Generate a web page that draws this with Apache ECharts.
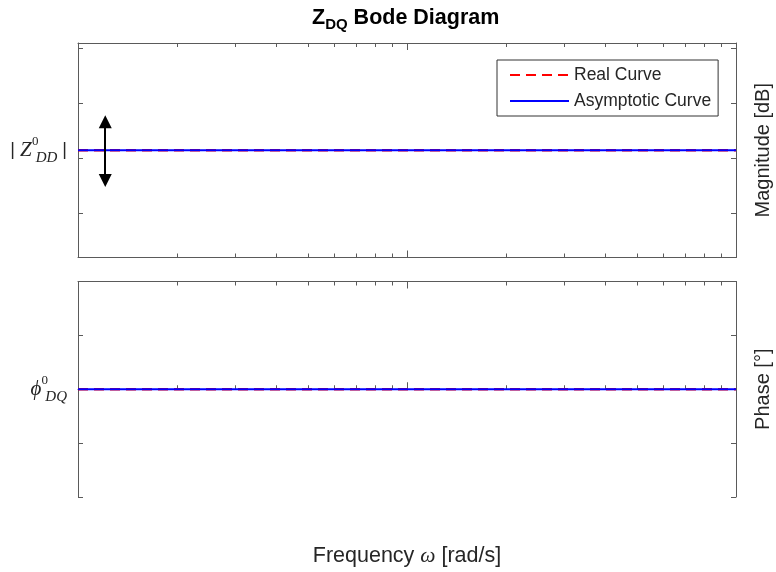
<!DOCTYPE html>
<html>
<head>
<meta charset="utf-8">
<script src="https://cdn.jsdelivr.net/npm/echarts@6/dist/echarts.min.js"></script>
<style>
  html, body { margin: 0; padding: 0; background: #ffffff; }
  #chart { width: 776px; height: 572px; }
</style>
</head>
<body>
<div id="chart"></div>
<script>
// Frequency span in rad/s: two decades on a log axis
const freq = [1, 100];
const decadeTicks = [1, 10, 100];
const minorTicks = [2, 3, 4, 5, 6, 7, 8, 9, 20, 30, 40, 50, 60, 70, 80, 90];

// Magnitude panel: flat level |Z_DD^0|
const magReal = [19.5, 19.5];
const magAsym = [19.5, 19.5];
const magRange = [0, 39];
const magTicks = [8, 18, 28, 38];

// Phase panel: flat level phi_DQ^0
const phaseReal = [0, 0];
const phaseAsym = [0, 0];
const phaseRange = [-90, 90];
const phaseTicks = [-90, -45, 0, 45, 90];

// Double-headed arrow marking the magnitude level
const arrowFreq = 1.21;
const arrowEnds = [24.7, 14.0];

const seriesNames = ['Real Curve', 'Asymptotic Curve'];

const boxColor = '#5a5a5a';
const textColor = '#262626';
const sans = '"Liberation Sans", Arial, sans-serif';
const serif = '"Liberation Serif", "DejaVu Serif", serif';

function pairs(xs, ys) {
  return xs.map((x, i) => [x, ys[i]]);
}

// Four x axes per panel: decade and minor ticks, on the bottom and top edges
function panelXAxes(gridIndex, name) {
  const base = {
    type: 'log', logBase: 10, gridIndex,
    min: freq[0], max: freq[freq.length - 1],
    splitLine: { show: false },
    axisLabel: { show: false }
  };
  const tick = (values, length) => ({
    show: true, inside: true, length, customValues: values,
    lineStyle: { color: boxColor, width: 1 }
  });
  const axes = [];
  ['bottom', 'top'].forEach(pos => {
    axes.push(Object.assign({}, base, {
      position: pos,
      axisLine: { show: true, lineStyle: { color: boxColor, width: 1 } },
      axisTick: tick(decadeTicks, 7)
    }));
    axes.push(Object.assign({}, base, {
      position: pos,
      axisLine: { show: false },
      axisTick: tick(minorTicks, 4)
    }));
  });
  if (name) {
    Object.assign(axes[0], {
      name: name,
      nameLocation: 'middle',
      nameGap: 48,
      nameTextStyle: {
        color: textColor,
        rich: {
          t: { fontFamily: sans, fontSize: 21.5, color: textColor },
          w: { fontFamily: serif, fontStyle: 'italic', fontSize: 21.5, color: textColor }
        }
      }
    });
  }
  return axes;
}

function panelYAxes(gridIndex, range, ticks, labelValue, labelText, sideName) {
  const base = {
    type: 'value', gridIndex,
    min: range[0], max: range[1],
    splitLine: { show: false },
    axisLine: { show: true, lineStyle: { color: boxColor, width: 1 } },
    axisTick: {
      show: true, inside: true, length: 5, customValues: ticks,
      lineStyle: { color: boxColor, width: 1 }
    }
  };
  const left = Object.assign({}, base, {
    position: 'left',
    axisLabel: {
      show: true,
      customValues: [labelValue],
      margin: 11,
      formatter: () => labelText,
      color: textColor,
      rich: {
        bar: { fontFamily: sans, fontSize: 18, color: textColor, lineHeight: 30 },
        m: { fontFamily: serif, fontStyle: 'italic', fontSize: 21, color: textColor, lineHeight: 30 },
        // superscript sits over the subscript: narrow slot, text spills to the right
        sup: { fontFamily: serif, fontSize: 13, color: textColor, verticalAlign: 'top', lineHeight: 14,
               width: 1, align: 'left', padding: [0, 0, 0, 3] },
        sub: { fontFamily: serif, fontStyle: 'italic', fontSize: 15, color: textColor, verticalAlign: 'bottom', lineHeight: 16 }
      }
    }
  });
  const right = Object.assign({}, base, {
    position: 'right',
    axisLabel: { show: false },
    name: sideName,
    nameLocation: 'middle',
    nameRotate: 90,
    nameGap: 17,
    nameTextStyle: { fontFamily: sans, fontSize: 20, color: textColor }
  });
  return [left, right];
}

const xAxis = panelXAxes(0, null).concat(
  panelXAxes(1, '{t|Frequency }{w|ω}{t| [rad/s]}')
);
const yAxis = panelYAxes(0, magRange, magTicks, magAsym[0],
    '{bar|| }{m|Z}{sup|0}{sub|DD}{bar| |}', 'Magnitude [dB]')
  .concat(panelYAxes(1, phaseRange, phaseTicks, phaseAsym[0],
    '{m|ϕ}{sup|0}{sub|DQ}', 'Phase [°]'));

const realStyle = { color: '#ff0000', width: 2.5, type: [10, 6] };
const asymStyle = { color: '#0000ff', width: 2 };

const option = {
  animation: false,
  backgroundColor: '#ffffff',
  title: {
    text: '{z|Z}{s|DQ}{b| Bode Diagram}',
    left: 307,
    top: 0,
    textStyle: {
      rich: {
        z: { fontFamily: sans, fontWeight: 'bold', fontSize: 21.5, color: '#000', lineHeight: 27 },
        s: { fontFamily: sans, fontWeight: 'bold', fontSize: 15, color: '#000', verticalAlign: 'bottom', lineHeight: 13 },
        b: { fontFamily: sans, fontWeight: 'bold', fontSize: 21.5, color: '#000', lineHeight: 27 }
      }
    }
  },
  legend: {
    data: seriesNames,
    orient: 'vertical',
    left: 497,
    top: 60,
    itemWidth: 59,
    itemHeight: 14,
    itemGap: 8,
    padding: [6, 7, 6, 12],
    borderColor: '#333333',
    borderWidth: 1,
    borderRadius: 0,
    backgroundColor: '#ffffff',
    selectedMode: false,
    itemStyle: { opacity: 0 },
    textStyle: { fontFamily: sans, fontSize: 17.5, color: textColor }
  },
  grid: [
    { left: 78, top: 43, width: 658, height: 214.5, containLabel: false, outerBoundsMode: 'none' },
    { left: 78, top: 281.5, width: 658, height: 215.5, containLabel: false, outerBoundsMode: 'none' }
  ],
  xAxis: xAxis,
  yAxis: yAxis,
  series: [
    {
      name: seriesNames[0], type: 'line', xAxisIndex: 0, yAxisIndex: 0,
      data: pairs(freq, magReal), symbol: 'none', lineStyle: realStyle, itemStyle: { color: realStyle.color },
      z: 2
    },
    {
      name: seriesNames[1], type: 'line', xAxisIndex: 0, yAxisIndex: 0,
      data: pairs(freq, magAsym), symbol: 'none', lineStyle: asymStyle, itemStyle: { color: asymStyle.color },
      z: 3,
      markLine: {
        silent: true,
        symbol: ['triangle', 'triangle'],
        symbolSize: 13,
        label: { show: false },
        lineStyle: { color: '#000000', width: 2, type: 'solid' },
        itemStyle: { color: '#000000' },
        emphasis: { disabled: true },
        data: [[
          { coord: [arrowFreq, arrowEnds[0]] },
          { coord: [arrowFreq, arrowEnds[1]] }
        ]]
      }
    },
    {
      name: seriesNames[0], type: 'line', xAxisIndex: 4, yAxisIndex: 2,
      data: pairs(freq, phaseReal), symbol: 'none', lineStyle: realStyle, itemStyle: { color: realStyle.color },
      z: 2
    },
    {
      name: seriesNames[1], type: 'line', xAxisIndex: 4, yAxisIndex: 2,
      data: pairs(freq, phaseAsym), symbol: 'none', lineStyle: asymStyle, itemStyle: { color: asymStyle.color },
      z: 3
    }
  ]
};

const chart = echarts.init(document.getElementById('chart'), null, { renderer: 'canvas' });
chart.setOption(option);
</script>
</body>
</html>
